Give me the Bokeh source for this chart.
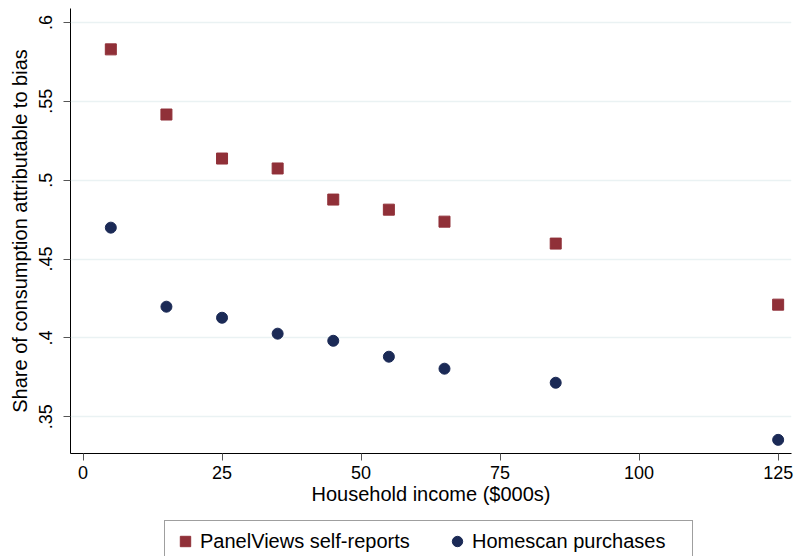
from bokeh.plotting import figure
from bokeh.models import Range1d, FixedTicker, Legend, LegendItem
from bokeh.layouts import column
from bokeh.embed import file_html
from bokeh.resources import INLINE

# ---- data ----
income = [5, 15, 25, 35, 45, 55, 65, 85, 125]
panelviews = [0.5829, 0.5416, 0.5137, 0.5074, 0.4877, 0.4813, 0.4737, 0.4598, 0.4211]
homescan = [0.4699, 0.4198, 0.4128, 0.4027, 0.3982, 0.3881, 0.3805, 0.3716, 0.3354]
x_ticks = [0, 25, 50, 75, 100, 125]
y_ticks = [0.35, 0.4, 0.45, 0.5, 0.55, 0.6]
y_tick_labels = [".35", ".4", ".45", ".5", ".55", ".6"]
series_labels = ["PanelViews self-reports", "Homescan purchases"]

FONT = "Liberation Sans"
MAROON = "#903038"
NAVY = "#1b2a56"

p = figure(width=794, height=515, output_backend="svg", toolbar_location=None,
           x_range=Range1d(-2.25, 127.4), y_range=Range1d(0.32675, 0.6088),
           min_border_left=70, min_border_right=3, min_border_top=8, min_border_bottom=62)
p.outline_line_color = None
p.background_fill_color = "white"
p.border_fill_color = "white"

p.scatter(income, panelviews, marker="square", size=11, fill_color=MAROON, line_color=MAROON)
p.scatter(income, homescan, marker="circle", size=11, fill_color=NAVY, line_color=NAVY)

# grids
p.xgrid.visible = False
p.ygrid.grid_line_color = "#eaf2f3"
p.ygrid.grid_line_width = 1.5

# x axis
xa = p.xaxis[0]
xa.ticker = FixedTicker(ticks=x_ticks)
xa.minor_tick_line_color = None
xa.major_tick_in = 0
xa.major_tick_out = 7
xa.major_tick_line_color = "#555555"
xa.axis_line_color = "black"
xa.major_label_text_font = FONT
xa.major_label_text_font_size = "18px"
xa.major_label_text_color = "black"
xa.major_label_standoff = 5
xa.axis_label = "Household income ($000s)"
xa.axis_label_text_font = FONT
xa.axis_label_text_font_size = "20px"
xa.axis_label_text_font_style = "normal"
xa.axis_label_text_color = "black"
xa.axis_label_standoff = 1

# y axis
ya = p.yaxis[0]
ya.ticker = FixedTicker(ticks=y_ticks)
ya.major_label_overrides = {t: s for t, s in zip(y_ticks, y_tick_labels)}
ya.minor_tick_line_color = None
ya.major_tick_in = 0
ya.major_tick_out = 7
ya.major_tick_line_color = "#555555"
ya.axis_line_color = "black"
ya.major_label_orientation = "vertical"
ya.major_label_text_font = FONT
ya.major_label_text_font_size = "18px"
ya.major_label_text_color = "black"
ya.major_label_standoff = 11
ya.axis_label = "Share of consumption attributable to bias"
ya.axis_label_text_font = FONT
ya.axis_label_text_font_size = "20px"
ya.axis_label_text_font_style = "normal"
ya.axis_label_text_color = "black"
ya.axis_label_standoff = 6

# ---- legend strip below the chart (its ranges keep the series out of view;
#      only the legend keys are shown) ----
lg = figure(width=794, height=41, output_backend="svg", toolbar_location=None,
            x_axis_location=None, y_axis_location=None, min_border=0,
            x_range=Range1d(-20, -10), y_range=Range1d(0, 1))
lg.outline_line_color = None
lg.grid.visible = False
lg.border_fill_color = "white"
k1 = lg.scatter(income, panelviews, marker="square", fill_color=MAROON, line_color=MAROON)
k2 = lg.scatter(income, homescan, marker="circle", fill_color=NAVY, line_color=NAVY)

legend = Legend(items=[LegendItem(label=series_labels[0], renderers=[k1]),
                       LegendItem(label=series_labels[1], renderers=[k2])],
                orientation="horizontal", location=(94, -6))
legend.label_text_font = FONT
legend.label_text_font_size = "20px"
legend.label_text_color = "black"
legend.glyph_width = 26
legend.glyph_height = 26
legend.label_standoff = 2
legend.label_width = 213
legend.spacing = 31
legend.padding = 7
legend.margin = 0
legend.border_line_color = "#404040"
legend.border_line_width = 1
legend.background_fill_color = "white"
legend.background_fill_alpha = 1
lg.add_layout(legend)

open("out.html", "w").write(file_html(column(p, lg), INLINE))
